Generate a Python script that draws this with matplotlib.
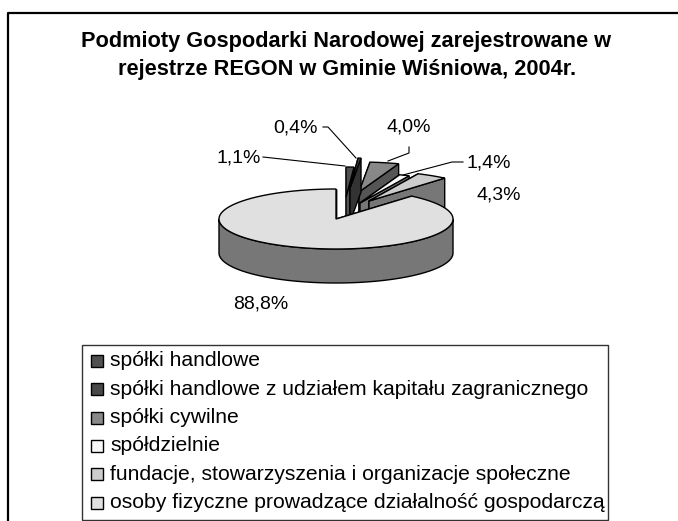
import numpy as np
import matplotlib
matplotlib.use('Agg')
import matplotlib.pyplot as plt
from matplotlib.patches import Polygon, Rectangle

plt.rcParams['font.family'] = ['Liberation Sans', 'DejaVu Sans']

title_lines = ["Podmioty Gospodarki Narodowej zarejestrowane w",
               "rejestrze REGON w Gminie Wiśniowa, 2004r."]
categories = ["spółki handlowe",
              "spółki handlowe z udziałem kapitału zagranicznego",
              "spółki cywilne",
              "spółdzielnie",
              "fundacje, stowarzyszenia i organizacje społeczne",
              "osoby fizyczne prowadzące działalność gospodarczą"]
# clockwise from 12 o'clock, as drawn in the pie
values = [1.1, 0.4, 4.0, 1.4, 4.3, 88.8]
value_labels = ["1,1%", "0,4%", "4,0%", "1,4%", "4,3%", "88,8%"]
colors = ['#505050', '#484848', '#888888', '#f8f8f8', '#cccccc', '#e0e0e0']
wall_colors = ['#555555', '#333333', '#555555', '#777777', '#777777', '#777777']
legend_colors = ['#505050', '#484848', '#888888', '#f8f8f8', '#cccccc', '#e0e0e0']

# geometry in image pixels
cx, cy = 336, 219
rx, ry = 117, 30
depth = 34
offsets = [(10, -22), (14, -31), (23, -27), (24, -16), (33, -18), (0, 0)]

fig = plt.figure(figsize=(6.78, 5.21), dpi=100)
ax = fig.add_axes([0, 0, 1, 1])
ax.set_xlim(0, 678)
ax.set_ylim(521, 0)
ax.axis('off')

# outer chart frame, only top and left edges are in the picture
ax.plot([8, 8, 678], [521, 13, 13], color='black', lw=1.6, clip_on=False)

ax.text(346, 42, title_lines[0], ha='center', va='center', fontsize=15.7, fontweight='bold')
ax.text(347, 70, title_lines[1], ha='center', va='center', fontsize=15.7, fontweight='bold')


def rim(a0, a1, ox, oy, dy=0):
    t = np.linspace(a0, a1, max(int(abs(a1 - a0) * 40), 2))
    return np.column_stack([cx + ox + rx * np.cos(t), cy + oy + dy - ry * np.sin(t)])


angles = np.pi / 2 - 2 * np.pi * np.cumsum([0] + values) / sum(values)
# painter's order: back slices first, the big one last
for i in [0, 2, 3, 4, 1, 5]:
    a0, a1 = angles[i], angles[i + 1]
    ox, oy = offsets[i]
    apex = np.array([cx + ox, cy + oy])
    top = rim(a0, a1, ox, oy)
    wall_kw = dict(facecolor=wall_colors[i], edgecolor='black', lw=1.0)
    down = np.array([0, depth])
    for p in (top[0], top[-1]):
        ax.add_patch(Polygon([apex, p, p + down, apex + down], closed=True, **wall_kw))
    # front-facing part of the outer wall
    lo = max(a1, -np.pi)
    hi = min(a0, 0)
    if hi > lo:
        front = rim(hi, lo, ox, oy)
        ax.add_patch(Polygon(np.vstack([front, front[::-1] + down]), closed=True, **wall_kw))
    ax.add_patch(Polygon(np.vstack([apex, top]), closed=True,
                         facecolor=colors[i], edgecolor='black', lw=1.0))

label_pos = [(239, 158), (296, 128), (409, 127), (489, 163), (499, 195), (261, 304)]
for txt, (x, y) in zip(value_labels, label_pos):
    ax.text(x, y, txt, ha='center', va='center', fontsize=14)

# leader lines
leaders = [[(263, 157), (345, 166)],
           [(323, 127), (328, 127), (356, 158)],
           [(409, 147), (409, 153), (388, 161)],
           [(463, 162), (452, 162), (403, 175)]]
for pts in leaders:
    xs, ys = zip(*pts)
    ax.plot(xs, ys, color='black', lw=0.8)

# legend
ax.add_patch(Rectangle((82, 345), 526, 175, facecolor='white', edgecolor='#333333', lw=1.0))
for k, name in enumerate(categories):
    y = 361 + k * 28.3
    ax.add_patch(Rectangle((91, y - 6), 12, 12, facecolor=legend_colors[k], edgecolor='black', lw=1.0))
    ax.text(110, y, name, ha='left', va='center', fontsize=15.2)

fig.savefig('out.png', dpi=100)
